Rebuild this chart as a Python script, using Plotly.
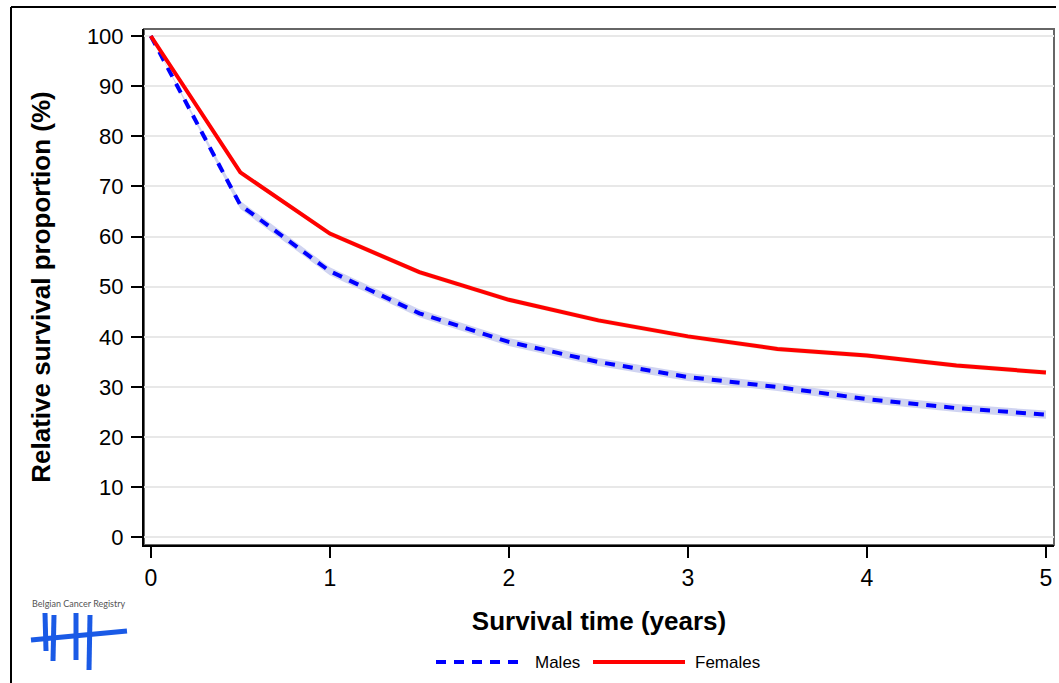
import plotly.graph_objects as go

# ---- data ----
years = [0, 0.5, 1, 1.5, 2, 2.5, 3, 3.5, 4, 4.5, 5]
males = [100, 66.3, 53.1, 44.7, 39.0, 35.0, 32.0, 30.0, 27.6, 25.8, 24.5]
males_low = [100, 65.5, 52.3, 43.9, 38.2, 34.2, 31.2, 29.2, 26.8, 25.0, 23.7]
males_up = [100, 67.1, 53.9, 45.5, 39.8, 35.8, 32.8, 30.8, 28.4, 26.6, 25.3]
females = [100, 72.8, 60.6, 52.9, 47.4, 43.3, 40.1, 37.6, 36.3, 34.3, 32.9]
females_low = [100, 72.3, 60.1, 52.4, 46.9, 42.8, 39.6, 37.1, 35.8, 33.8, 32.4]
females_up = [100, 73.3, 61.1, 53.4, 47.9, 43.8, 40.6, 38.1, 36.8, 34.8, 33.4]
x_ticks = [0, 1, 2, 3, 4, 5]
y_ticks = [0, 10, 20, 30, 40, 50, 60, 70, 80, 90, 100]
series_names = ["Males", "Females"]

W, H = 1059, 683
L, R, T, B = 144, 1054, 29, 545


def px(x):
    return (x - L) / (R - L)


def py(y):
    return (B - y) / (B - T)


MALE_COLOR = "#0000ff"
FEMALE_COLOR = "#ff0000"
MALE_DASH = "10px,8px"

fig = go.Figure()
# confidence bands
fig.add_trace(go.Scatter(x=years, y=males_low, mode="lines", line=dict(width=0),
                         showlegend=False, hoverinfo="skip"))
fig.add_trace(go.Scatter(x=years, y=males_up, mode="lines", line=dict(width=0),
                         fill="tonexty", fillcolor="rgba(200,205,238,0.85)",
                         showlegend=False, hoverinfo="skip"))
fig.add_trace(go.Scatter(x=years, y=females_low, mode="lines", line=dict(width=0),
                         showlegend=False, hoverinfo="skip"))
fig.add_trace(go.Scatter(x=years, y=females_up, mode="lines", line=dict(width=0),
                         fill="tonexty", fillcolor="rgba(228,240,205,0.9)",
                         showlegend=False, hoverinfo="skip"))
# main lines
fig.add_trace(go.Scatter(x=years, y=males, mode="lines", name=series_names[0],
                         showlegend=False,
                         line=dict(color=MALE_COLOR, width=4, dash=MALE_DASH)))
fig.add_trace(go.Scatter(x=years, y=females, mode="lines", name=series_names[1],
                         showlegend=False,
                         line=dict(color=FEMALE_COLOR, width=4)))

font_family = "Liberation Sans, Arial, sans-serif"

fig.update_xaxes(
    range=[-0.038, 5.045],
    tickvals=x_ticks, ticktext=[str(v) for v in x_ticks],
    ticks="outside", ticklen=11, tickwidth=2, tickcolor="#000",
    showline=True, linecolor="#000", linewidth=2,
    showgrid=False, zeroline=False,
    tickfont=dict(family=font_family, size=23, color="#000"),
    title=dict(text="<b>Survival time (years)</b>", standoff=22,
               font=dict(family=font_family, size=26, color="#000")),
)
fig.update_yaxes(
    range=[-1.5, 101.4],
    tickvals=y_ticks, ticktext=[str(v) for v in y_ticks],
    ticks="outside", ticklen=11, tickwidth=2, tickcolor="#000",
    ticklabelstandoff=3,
    showline=True, linecolor="#000", linewidth=2,
    showgrid=True, gridcolor="#e8e8e8", gridwidth=1.5, zeroline=False,
    tickfont=dict(family=font_family, size=22, color="#000"),
    title=dict(text="<b>Relative survival proportion (%)</b>", standoff=29,
               font=dict(family=font_family, size=26, color="#000")),
)

shapes = [
    # plot frame (gray top/right)
    dict(type="rect", xref="paper", yref="paper", x0=0, x1=1, y0=0, y1=1,
         line=dict(color="#666666", width=2), layer="below"),
    # outer frame
    dict(type="line", xref="paper", yref="paper", x0=px(11), x1=px(11),
         y0=py(7), y1=py(690), line=dict(color="#000", width=2)),
    dict(type="line", xref="paper", yref="paper", x0=px(11), x1=px(1056),
         y0=py(7), y1=py(7), line=dict(color="#000", width=2)),
]
# logo strokes
blue = "#1a5ae6"
logo_strokes = [
    ((31, 640), (127, 631), 5),
    ((45, 613), (46, 651), 5),
    ((54, 615), (53, 661), 5),
    ((76, 613), (76, 660), 5),
    ((90, 615), (89, 670), 5),
]
for (x0, y0), (x1, y1), w in logo_strokes:
    shapes.append(dict(type="line", xref="paper", yref="paper",
                       x0=px(x0), y0=py(y0), x1=px(x1), y1=py(y1),
                       line=dict(color=blue, width=w)))

# custom legend (line samples + labels)
LEG_Y = 662
legend_items = [
    (series_names[0], MALE_COLOR, MALE_DASH, 436, 518, 533),
    (series_names[1], FEMALE_COLOR, "solid", 593, 685, 693),
]
annotations = [
    dict(text="Belgian Cancer Registry", xref="paper", yref="paper",
         x=px(78), y=py(603), showarrow=False, xanchor="center", yanchor="middle",
         font=dict(family="Lato, sans-serif", size=9, color="#555555")),
]
for name, color, dash, x0, x1, xt in legend_items:
    shapes.append(dict(type="line", xref="paper", yref="paper",
                       x0=px(x0), x1=px(x1), y0=py(LEG_Y), y1=py(LEG_Y),
                       line=dict(color=color, width=4, dash=dash)))
    annotations.append(dict(text=name, xref="paper", yref="paper",
                            x=px(xt), y=py(LEG_Y), showarrow=False,
                            xanchor="left", yanchor="middle",
                            font=dict(family=font_family, size=17, color="#000")))

fig.update_layout(
    width=W, height=H,
    margin=dict(l=L, r=W - R, t=T, b=H - B),
    paper_bgcolor="#ffffff", plot_bgcolor="#ffffff",
    shapes=shapes, annotations=annotations,
    showlegend=False,
)

fig.write_html(
    "out.html",
    config={"displayModeBar": False},
    post_script="document.body.style.margin='0';document.body.style.padding='0';",
)
